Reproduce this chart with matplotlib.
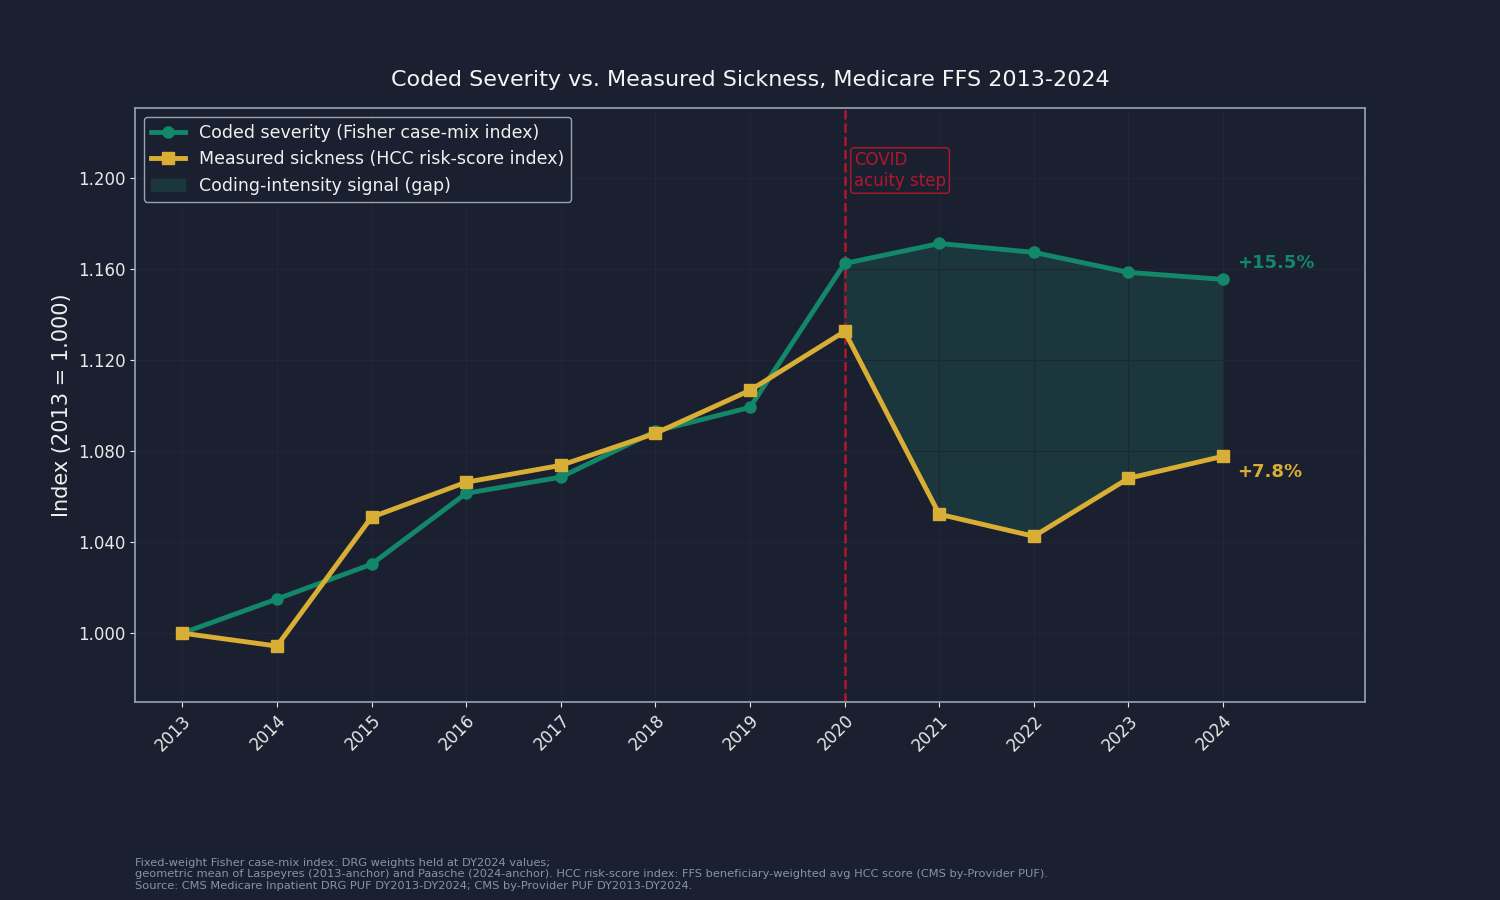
import matplotlib
matplotlib.use("Agg")
import matplotlib.pyplot as plt
import numpy as np

years = [2013, 2014, 2015, 2016, 2017, 2018, 2019, 2020, 2021, 2022, 2023, 2024]
coded = [1.000, 1.015, 1.0303, 1.0615, 1.0686, 1.0888, 1.0993, 1.1626, 1.1714, 1.1675, 1.1587, 1.1556]
measured = [1.000, 0.9943, 1.051, 1.0664, 1.0738, 1.0879, 1.1068, 1.1327, 1.0523, 1.0426, 1.0681, 1.0778]

BG = "#1b2030"
TEAL = "#12876a"
GOLD = "#d9ae35"
RED = "#b0182c"

fig = plt.figure(figsize=(15, 9), dpi=100, facecolor=BG)
ax = fig.add_axes([0.09, 0.22, 0.82, 0.66], facecolor=BG)

x = np.array(years)
c = np.array(coded); m = np.array(measured)
ax.plot(x, c, color=TEAL, lw=3.5, marker="o", ms=8, label="Coded severity (Fisher case-mix index)", zorder=3)
ax.plot(x, m, color=GOLD, lw=3.5, marker="s", ms=8, label="Measured sickness (HCC risk-score index)", zorder=4)
ax.fill_between(x, m, c, where=c > m, color="#1b3a3f", alpha=0.85, lw=1,
                label="Coding-intensity signal (gap)", zorder=1)
ax.axvline(2020, color=RED, ls="--", lw=1.8, zorder=2)
ax.text(2020.1, 1.2035, "COVID\nacuity step", color=RED, fontsize=12, va="center",
        bbox=dict(boxstyle="round,pad=0.2", fc=BG, ec=RED, lw=1))
ax.text(2024.15, c[-1] + 0.007, "+15.5%", color=TEAL, fontsize=13, fontweight="bold", va="center")
ax.text(2024.15, m[-1] - 0.007, "+7.8%", color=GOLD, fontsize=13, fontweight="bold", va="center")

ax.set_xlim(2012.5, 2025.5)
ax.set_ylim(0.9697, 1.231)
ax.set_xticks(years)
ax.set_xticklabels([str(y) for y in years], rotation=45, ha="right", rotation_mode="anchor")
ax.set_yticks([1.0, 1.04, 1.08, 1.12, 1.16, 1.2])
ax.set_yticklabels(["1.000", "1.040", "1.080", "1.120", "1.160", "1.200"])
ax.tick_params(colors="#e8e8e8", labelsize=12)
ax.grid(True, color="#212636", lw=0.8)
for s in ax.spines.values():
    s.set_color("#9aa3b3")
    s.set_linewidth(1.2)
ax.set_ylabel("Index (2013 = 1.000)", color="#f0f0f0", fontsize=15)
ax.set_title("Coded Severity vs. Measured Sickness, Medicare FFS 2013-2024", color="#f5f5f5", fontsize=16, pad=16)
leg = ax.legend(loc="upper left", fontsize=12.5, facecolor=BG, edgecolor="#9aa3b3", labelcolor="#f0f0f0", framealpha=1)
fig.text(0.09, 0.01, "Fixed-weight Fisher case-mix index: DRG weights held at DY2024 values;\n"
         "geometric mean of Laspeyres (2013-anchor) and Paasche (2024-anchor). HCC risk-score index: FFS beneficiary-weighted avg HCC score (CMS by-Provider PUF).\n"
         "Source: CMS Medicare Inpatient DRG PUF DY2013-DY2024; CMS by-Provider PUF DY2013-DY2024.",
         color="#8a93a3", fontsize=8.2, va="bottom")
fig.savefig("out.png", facecolor=BG)
